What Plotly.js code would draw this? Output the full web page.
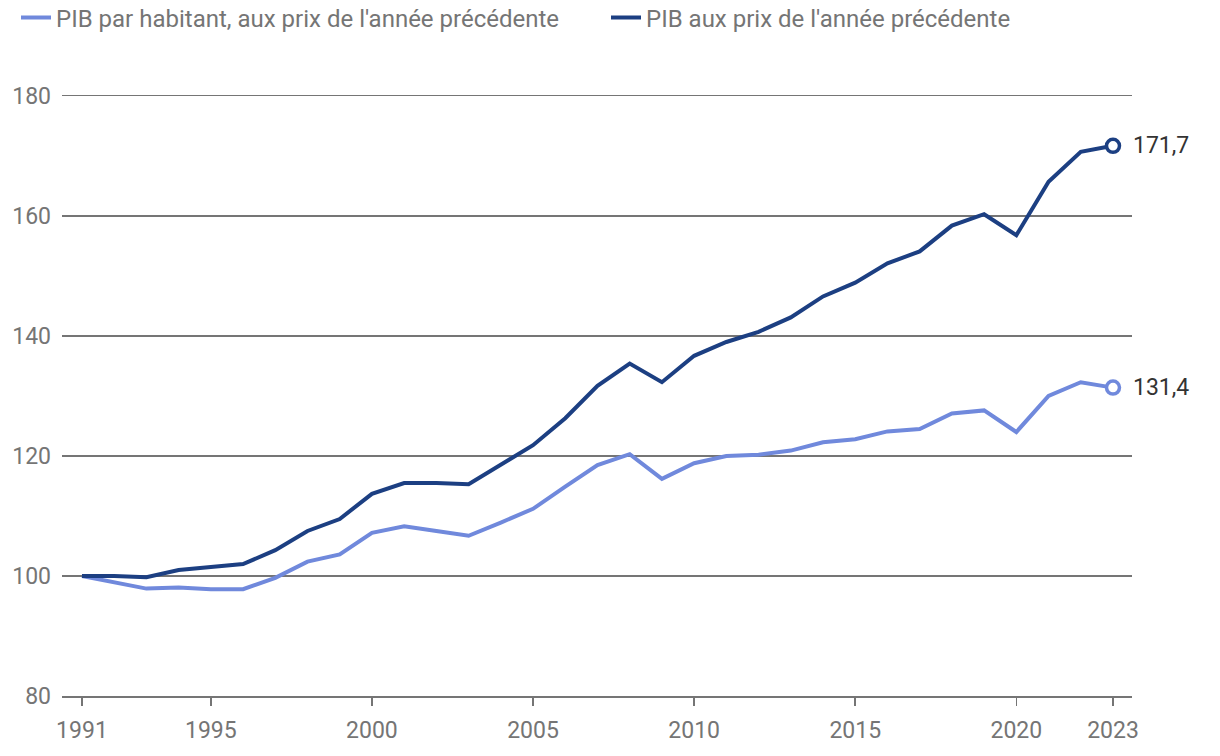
<!DOCTYPE html>
<html>
<head>
<meta charset="utf-8">
<script src="https://cdn.plot.ly/plotly-3.0.1.min.js"></script>
<style>html,body{margin:0;padding:0;background:#fff;}#chart{width:1220px;height:756px;}</style>
</head>
<body>
<div id="chart"></div>
<script>
const years = [1991,1992,1993,1994,1995,1996,1997,1998,1999,2000,2001,2002,2003,2004,2005,2006,2007,2008,2009,2010,2011,2012,2013,2014,2015,2016,2017,2018,2019,2020,2021,2022,2023];
const pibHabitant = [100,99.0,97.9,98.1,97.8,97.8,99.7,102.4,103.6,107.2,108.3,107.5,106.7,108.9,111.2,114.9,118.5,120.3,116.2,118.8,120.0,120.2,120.9,122.3,122.8,124.1,124.5,127.1,127.6,124.0,130.0,132.3,131.4];
const pib = [100,100.0,99.8,101.0,101.5,102.0,104.3,107.5,109.5,113.7,115.5,115.5,115.3,118.6,121.8,126.3,131.7,135.4,132.3,136.7,139.0,140.7,143.1,146.6,148.9,152.1,154.1,158.4,160.3,156.8,165.7,170.7,171.7];
const seriesNames = ["PIB par habitant, aux prix de l'année précédente", "PIB aux prix de l'année précédente"];
const xTicks = [1991,1995,2000,2005,2010,2015,2020,2023];
const yTicks = [80,100,120,140,160,180];

const lightC = '#7089dc';
const darkC = '#1c3f82';
const last = years.length - 1;
const fmt = v => v.toFixed(1).replace('.', ',');

const traces = [
  {x: years, y: pibHabitant, name: seriesNames[0], mode: 'lines', line: {color: lightC, width: 4}, legend: 'legend'},
  {x: years, y: pib, name: seriesNames[1], mode: 'lines', line: {color: darkC, width: 4}, legend: 'legend2'},
  {x: [years[last]], y: [pibHabitant[last]], mode: 'markers', showlegend: false, cliponaxis: false,
   marker: {symbol: 'circle', size: 13, color: '#fff', line: {width: 3.5, color: lightC}}},
  {x: [years[last]], y: [pib[last]], mode: 'markers', showlegend: false, cliponaxis: false,
   marker: {symbol: 'circle', size: 13, color: '#fff', line: {width: 3.5, color: darkC}}}
];

const legendBase = {orientation: 'h', xref: 'container', xanchor: 'left', y: 1 - 18 / 756, yref: 'container', yanchor: 'middle',
                    font: {size: 24, color: '#757575'}, bgcolor: 'rgba(0,0,0,0)'};

const layout = {
  width: 1220, height: 756,
  margin: {l: 62, r: 88, t: 96, b: 60},
  paper_bgcolor: '#fff', plot_bgcolor: '#fff',
  font: {family: 'Roboto, sans-serif', color: '#757575', size: 23},
  showlegend: true,
  legend: Object.assign({}, legendBase, {x: 16 / 1220}),
  legend2: Object.assign({}, legendBase, {x: 606 / 1220}),
  xaxis: {range: [1990.38, 2023.59], tickvals: xTicks, ticktext: xTicks.map(String),
          showgrid: false, zeroline: false, showline: true, mirror: true, linecolor: '#757575', linewidth: 1.5,
          ticks: 'outside', ticklen: 8, tickwidth: 1.5, tickcolor: '#757575',
          tickfont: {size: 23, color: '#757575'}, ticklabelstandoff: 5},
  yaxis: {range: [80, 180], tickvals: yTicks, showgrid: true, gridcolor: '#757575', gridwidth: 1.5, zeroline: false,
          showline: false, ticks: '', tickfont: {size: 23, color: '#757575'}, ticklabelstandoff: 10},
  annotations: [
    {x: years[last], y: pib[last], text: fmt(pib[last]), showarrow: false, xanchor: 'left', xshift: 18, font: {size: 23, color: '#333'}},
    {x: years[last], y: pibHabitant[last], text: fmt(pibHabitant[last]), showarrow: false, xanchor: 'left', xshift: 18, font: {size: 23, color: '#333'}}
  ]
};

Plotly.newPlot('chart', traces, layout, {displayModeBar: false, staticPlot: true});
</script>
</body>
</html>
